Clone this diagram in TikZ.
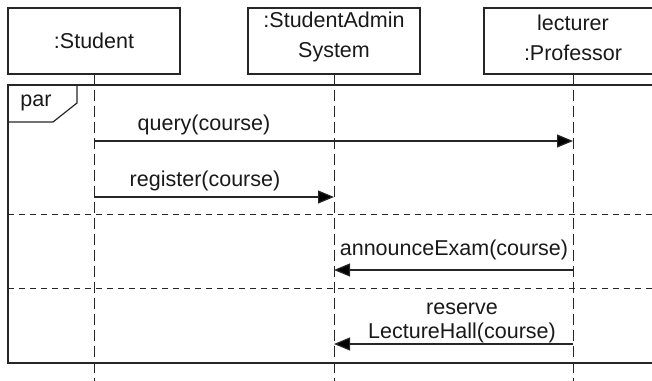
\documentclass[tikz,border=0pt]{standalone}
\usepackage{fontspec}
\setmainfont{Liberation Sans}
\usetikzlibrary{arrows.meta}
\begin{document}
\begin{tikzpicture}[x=1pt,y=-1pt,
  line width=1.2pt, draw={black!85},
  txt/.style={font=\fontsize{21.5}{30}\selectfont, text=black!90, inner sep=0pt, align=center},
  lifeline/.style={dash pattern=on 11pt off 5pt, line width=1pt},
  sep/.style={dash pattern=on 6pt off 5pt, line width=1pt},
  msg/.style={-{Triangle[length=16pt,width=13pt,fill=black]}, line width=1.2pt}]
\useasboundingbox (0,0) rectangle (652,380);
\begin{scope}
\clip (0,0) rectangle (652,380);
% objects
\draw (8,8) rectangle (180,74);
\draw (248,8) rectangle (420,74);
\draw (484,8) rectangle (660,74);
\node[txt] (stu) at (94,41) {:Student};
\node[txt] (adm) at (334,37) {:StudentAdmin\\System};
\node[txt] (pro) at (573,38) {lecturer\\:Professor};
% lifeline anchors
\coordinate (s0) at (94,74);  \coordinate (s1) at (94,382);
\coordinate (a0) at (334,74); \coordinate (a1) at (334,382);
\coordinate (p0) at (573,74); \coordinate (p1) at (573,382);
\draw[lifeline] (s0) -- (s1);
\draw[lifeline] (a0) -- (a1);
\draw[lifeline] (p0) -- (p1);
% frame
\draw (660,85) -- (8,85) -- (8,363) -- (660,363);
\draw (8,122) -- (53,122) -- (77,103) -- (77,85);
\node[txt] (par) at (36,103) {par};
\draw[sep] (8,214) -- (660,214);
\draw[sep] (8,288) -- (660,288);
% messages
\coordinate (q0) at (94,141);  \coordinate (q1) at (573,141);
\coordinate (r0) at (94,197);  \coordinate (r1) at (334,197);
\coordinate (e0) at (573,270); \coordinate (e1) at (334,270);
\coordinate (h0) at (573,344); \coordinate (h1) at (334,344);
\draw[msg] (q0) -- (q1);
\draw[msg] (r0) -- (r1);
\draw[msg] (e0) -- (e1);
\draw[msg] (h0) -- (h1);
\node[txt] (lq) at (204,125) {query(course)};
\node[txt] (lr) at (205,181) {register(course)};
\node[txt] (le) at (454,250) {announceExam(course)};
\node[txt,anchor=base] (lh1) at (462,314) {reserve};
\node[txt,anchor=base] (lh2) at (462,338) {LectureHall(course)};
\end{scope}
\end{tikzpicture}
\end{document}
